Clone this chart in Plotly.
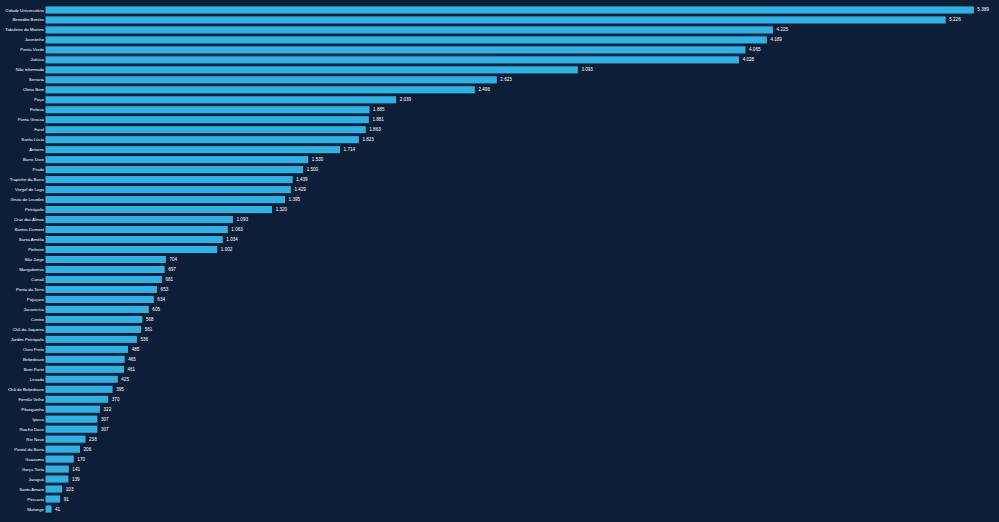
import plotly.graph_objects as go

bairros = ["Cidade Universitária", "Benedito Bentes", "Tabuleiro do Martins", "Jacintinho", "Ponta Verde",
           "Jatiúca", "Não informado", "Serraria", "Clima Bom", "Poço", "Feitosa", "Ponta Grossa", "Farol",
           "Santa Lúcia", "Antares", "Barro Duro", "Prado", "Trapiche da Barra", "Vergel do Lago",
           "Gruta de Lourdes", "Petrópolis", "Cruz das Almas", "Santos Dumont", "Santa Amélia", "Pinheiro",
           "São Jorge", "Mangabeiras", "Canaã", "Ponta da Terra", "Pajuçara", "Jacarecica", "Centro",
           "Chã da Jaqueira", "Jardim Petrópolis", "Ouro Preto", "Bebedouro", "Bom Parto", "Levada",
           "Chã de Bebedouro", "Fernão Velho", "Pitanguinha", "Ipioca", "Riacho Doce", "Rio Novo",
           "Pontal da Barra", "Guaxuma", "Garça Torta", "Jaraguá", "Santo Amaro", "Pescaria", "Mutange"]
valores = [5389, 5226, 4225, 4189, 4065, 4028, 3093, 2623, 2496, 2039, 1885, 1881, 1863, 1823, 1714,
           1530, 1500, 1439, 1429, 1395, 1320, 1093, 1063, 1034, 1002, 704, 697, 681, 653, 634, 605,
           568, 561, 536, 485, 465, 461, 425, 395, 370, 322, 307, 307, 238, 206, 170, 141, 139, 103, 91, 41]

BG = "#0d1f38"

fig = go.Figure(go.Bar(
    x=valores, y=bairros, orientation="h",
    marker=dict(color="#2eb2e6", line=dict(color="#0b1a2e", width=1)),
    text=[f"{v:,}".replace(",", ".") for v in valores],
    textposition="outside", cliponaxis=False,
    textfont=dict(color="white", size=4.6, family="Liberation Sans"),
))
fig.update_layout(
    width=999, height=522,
    paper_bgcolor=BG, plot_bgcolor=BG,
    margin=dict(l=45, r=0, t=5, b=8),
    bargap=0.18,
    separators=",.",
    showlegend=False,
    font=dict(family="Liberation Sans", color="white", size=4.3),
    xaxis=dict(range=[0, 5532], visible=False, showgrid=False, zeroline=False),
    yaxis=dict(autorange="reversed", showgrid=False, ticks="", ticklen=0,
               tickfont=dict(color="white", size=4.3, family="Liberation Sans")),
)
fig.write_html("out.html", config={"displayModeBar": False},
               post_script=f"document.body.style.margin='0';document.body.style.background='{BG}';document.body.style.overflow='hidden';")
